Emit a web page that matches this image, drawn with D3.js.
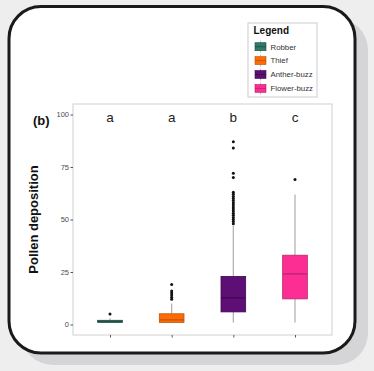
<!DOCTYPE html>
<html>
<head>
<meta charset="utf-8">
<script src="https://cdn.jsdelivr.net/npm/d3@7/dist/d3.min.js"></script>
<style>
  html, body { margin: 0; padding: 0; background: #eeeeee; }
  svg { display: block; }
</style>
</head>
<body>
<div id="chart"></div>
<script>
// groups and box stats
var groups = ["Robber", "Thief", "Anther-buzz", "Flower-buzz"];
var letters = ["a", "a", "b", "c"];
var lowWhisker = [1, 1, 1, 1];
var q1 = [1, 1, 6, 12.2];
var median = [1.5, 2.2, 12.7, 24.1];
var q3 = [2, 5.1, 22.9, 33];
var highWhisker = [3, 10, 47, 61.9];
var outliers = [
  [5],
  [12, 13, 14, 15, 16, 19],
  [48, 49, 50, 51, 52, 53, 54, 55, 56, 57, 58, 59, 60, 61, 62, 63, 70, 72, 84, 87],
  [69]
];
var yTicks = [0, 25, 50, 75, 100];

var fills = ["#2e7a6b", "#ff6a05", "#5e0f75", "#fc2e93"];
var borders = ["#1f4d44", "#b8560e", "#3d0a4d", "#b8246c"];

var W = 374, H = 371;
var svg = d3.select("#chart").append("svg")
    .attr("width", W)
    .attr("height", H);

// card with shadow
svg.append("rect")
    .attr("x", 21).attr("y", 18)
    .attr("width", 347).attr("height", 347)
    .attr("rx", 32)
    .attr("fill", "#d5d5d7");
svg.append("rect")
    .attr("x", 9).attr("y", 6.5)
    .attr("width", 346).attr("height", 346.5)
    .attr("rx", 32)
    .attr("fill", "#ffffff")
    .attr("stroke", "#1a1a1a")
    .attr("stroke-width", 3);

var panel = {left: 73, right: 332, top: 104, bottom: 335};

var x = d3.scalePoint().domain(groups).range([panel.left, panel.right]).padding(0.6);
var y = d3.scaleLinear().domain([-5, 105]).range([panel.bottom, panel.top]);
var boxW = x.step() * 0.4;

// panel border
svg.append("rect")
    .attr("x", panel.left).attr("y", panel.top)
    .attr("width", panel.right - panel.left)
    .attr("height", panel.bottom - panel.top)
    .attr("fill", "none")
    .attr("stroke", "#cfcfcf")
    .attr("stroke-width", 1);

// y axis
var yAxis = svg.append("g")
    .attr("transform", "translate(" + panel.left + ",0)")
    .call(d3.axisLeft(y).tickValues(yTicks).tickSize(2.5).tickPadding(1.5));
yAxis.select(".domain").remove();
yAxis.selectAll("line").attr("stroke", "#555");
yAxis.selectAll("text")
    .attr("fill", "#4d4d4d")
    .style("font-family", "Liberation Sans, Arial, sans-serif")
    .style("font-size", "7.5px");

// x axis ticks (no labels)
var xAxis = svg.append("g")
    .attr("transform", "translate(0," + panel.bottom + ")")
    .call(d3.axisBottom(x).tickSize(2.5).tickFormat(""));
xAxis.select(".domain").remove();
xAxis.selectAll("line").attr("stroke", "#555");

var data = groups.map(function (g, i) {
  return {name: g, i: i, lo: lowWhisker[i], q1: q1[i], med: median[i], q3: q3[i], hi: highWhisker[i], out: outliers[i]};
});

var box = svg.append("g").selectAll(".box")
    .data(data)
    .enter().append("g");

// whiskers
box.append("line")
    .attr("x1", function (d) { return x(d.name); })
    .attr("x2", function (d) { return x(d.name); })
    .attr("y1", function (d) { return y(d.q3); })
    .attr("y2", function (d) { return y(d.hi); })
    .attr("stroke", "#b3b3b3").attr("stroke-width", 1.3);
box.append("line")
    .attr("x1", function (d) { return x(d.name); })
    .attr("x2", function (d) { return x(d.name); })
    .attr("y1", function (d) { return y(d.q1); })
    .attr("y2", function (d) { return y(d.lo); })
    .attr("stroke", "#b3b3b3").attr("stroke-width", 1.3);

// boxes
box.append("rect")
    .attr("x", function (d) { return x(d.name) - boxW / 2; })
    .attr("y", function (d) { return y(d.q3); })
    .attr("width", boxW)
    .attr("height", function (d) { return Math.max(y(d.q1) - y(d.q3), 1); })
    .attr("fill", function (d) { return fills[d.i]; })
    .attr("stroke", function (d) { return borders[d.i]; })
    .attr("stroke-width", 0.8);

// medians
box.append("line")
    .attr("x1", function (d) { return x(d.name) - boxW / 2; })
    .attr("x2", function (d) { return x(d.name) + boxW / 2; })
    .attr("y1", function (d) { return y(d.med); })
    .attr("y2", function (d) { return y(d.med); })
    .attr("stroke", function (d) { return borders[d.i]; })
    .attr("stroke-width", 1.2);

// outliers
box.selectAll(".out")
    .data(function (d) { return d.out.map(function (v) { return {name: d.name, v: v}; }); })
    .enter().append("circle")
    .attr("cx", function (d) { return x(d.name); })
    .attr("cy", function (d) { return y(d.v); })
    .attr("r", 1.5)
    .attr("fill", "#111");

// significance letters
svg.append("g").selectAll("text")
    .data(groups)
    .enter().append("text")
    .attr("x", function (d) { return x(d); })
    .attr("y", y(96.5))
    .attr("text-anchor", "middle")
    .attr("fill", "#222")
    .style("font-family", "Liberation Sans, Arial, sans-serif")
    .style("font-size", "13.5px")
    .text(function (d, i) { return letters[i]; });

// panel tag
svg.append("text")
    .attr("x", 33).attr("y", 124.5)
    .attr("fill", "#111")
    .style("font-family", "Liberation Sans, Arial, sans-serif")
    .style("font-weight", "bold")
    .style("font-size", "13px")
    .text("(b)");

// y title
svg.append("text")
    .attr("transform", "translate(38," + y(50) + ") rotate(-90)")
    .attr("text-anchor", "middle")
    .attr("fill", "#111")
    .style("font-family", "Liberation Sans, Arial, sans-serif")
    .style("font-weight", "bold")
    .style("font-size", "13px")
    .text("Pollen deposition");

// legend
var legend = svg.append("g").attr("transform", "translate(248,23)");
legend.append("rect")
    .attr("width", 69).attr("height", 74)
    .attr("fill", "#fff")
    .attr("stroke", "#cccccc")
    .attr("stroke-width", 1);
legend.append("text")
    .attr("x", 5.5).attr("y", 10.5)
    .attr("fill", "#111")
    .style("font-family", "Liberation Sans, Arial, sans-serif")
    .style("font-weight", "bold")
    .style("font-size", "10px")
    .text("Legend");

var item = legend.selectAll(".item")
    .data(groups)
    .enter().append("g")
    .attr("transform", function (d, i) { return "translate(7," + (23.7 + i * 13.9) + ")"; });
item.append("line")
    .attr("x1", 5.5).attr("x2", 5.5)
    .attr("y1", -6).attr("y2", 6)
    .attr("stroke", "#b3b3b3").attr("stroke-width", 0.8);
item.append("rect")
    .attr("x", 0).attr("y", -4)
    .attr("width", 11).attr("height", 8)
    .attr("fill", function (d, i) { return fills[i]; })
    .attr("stroke", function (d, i) { return borders[i]; })
    .attr("stroke-width", 0.6);
item.append("line")
    .attr("x1", 0).attr("x2", 11)
    .attr("y1", 0).attr("y2", 0)
    .attr("stroke", function (d, i) { return borders[i]; })
    .attr("stroke-width", 0.8);
item.append("text")
    .attr("x", 15.5).attr("y", 2.8)
    .attr("fill", "#333")
    .style("font-family", "Liberation Sans, Arial, sans-serif")
    .style("font-size", "7.8px")
    .text(function (d) { return d; });
</script>
</body>
</html>
